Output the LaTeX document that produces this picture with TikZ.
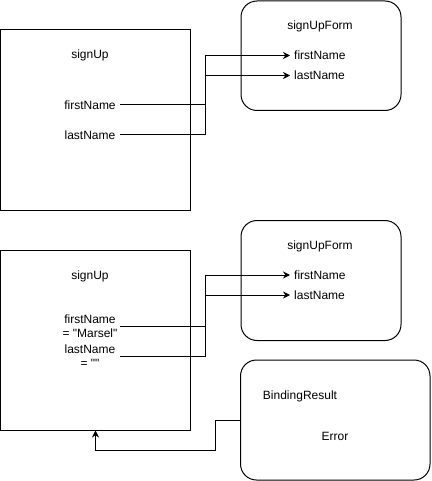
\documentclass[tikz,border=0pt]{standalone}
\usepackage{fontspec}
\setmainfont{Liberation Sans}[Ligatures=TeXOff]
\usetikzlibrary{arrows.meta}

\tikzset{
  box/.style={draw,line width=1pt,minimum width=190pt,minimum height=180pt,inner sep=0},
  form/.style={draw,line width=1pt,rounded corners=16pt,inner sep=0},
  field/.style={anchor=west,inner xsep=4pt,inner ysep=0},
  attr/.style={minimum width=60pt,inner sep=0,align=center},
  wire/.style={line width=1pt},
  arr/.style={wire,-{Stealth[length=7pt,width=7pt]}}
}

\begin{document}
\begin{tikzpicture}[x=1pt,y=-1pt,font=\fontsize{12}{14}\selectfont]
  \useasboundingbox (0,0) rectangle (431,481);

  % the two signUpForm boxes
  \foreach \y/\h/\n in {0.5/109.5/1, 220/120/2}
  {
    \node [form,minimum width=160pt,minimum height=\h pt,anchor=north west]
      (sf\n) at (240.5,\y) {};
    \node (sft\n) at (320,\y+26) {signUpForm};
    \node [field] (ff\n) at (290,\y+55) {firstName};
    \node [field] (fl\n) at (290,\y+75) {lastName};
  }

  % signUp, top
  \node [box] (su1) at (95.5,120) {};
  \node (sut1) at (90,55) {signUp};
  \node [attr] (fn1) at (90,105) {firstName};
  \node [attr] (ln1) at (90,135) {lastName};
  \draw [arr] (fn1.east) -- ++(85,0) |- (ff1.west);
  \draw [arr] (ln1.east) -- ++(85,0) |- (fl1.west);

  % signUp, bottom
  \node [box] (su2) at (95.5,340) {};
  \node (sut2) at (90,276) {signUp};
  \node [attr] (fn2) at (90,326) {firstName\\= "Marsel"};
  \node [attr] (ln2) at (90,356) {lastName\\= ""};
  \draw [arr] (fn2.east) -- ++(85,0) |- (ff2.west);
  \draw [arr] (ln2.east) -- ++(85,0) |- (fl2.west);

  % BindingResult
  \node [form,minimum width=189.5pt,minimum height=120pt] (br) at (335.25,420) {};
  \node (brt) at (300,396) {BindingResult};
  \node (err) at (335,436) {Error};
  \draw [arr] (br.west) -- ++(-25,0) -- ++(0,30) -| (su2.south);

\end{tikzpicture}
\end{document}
